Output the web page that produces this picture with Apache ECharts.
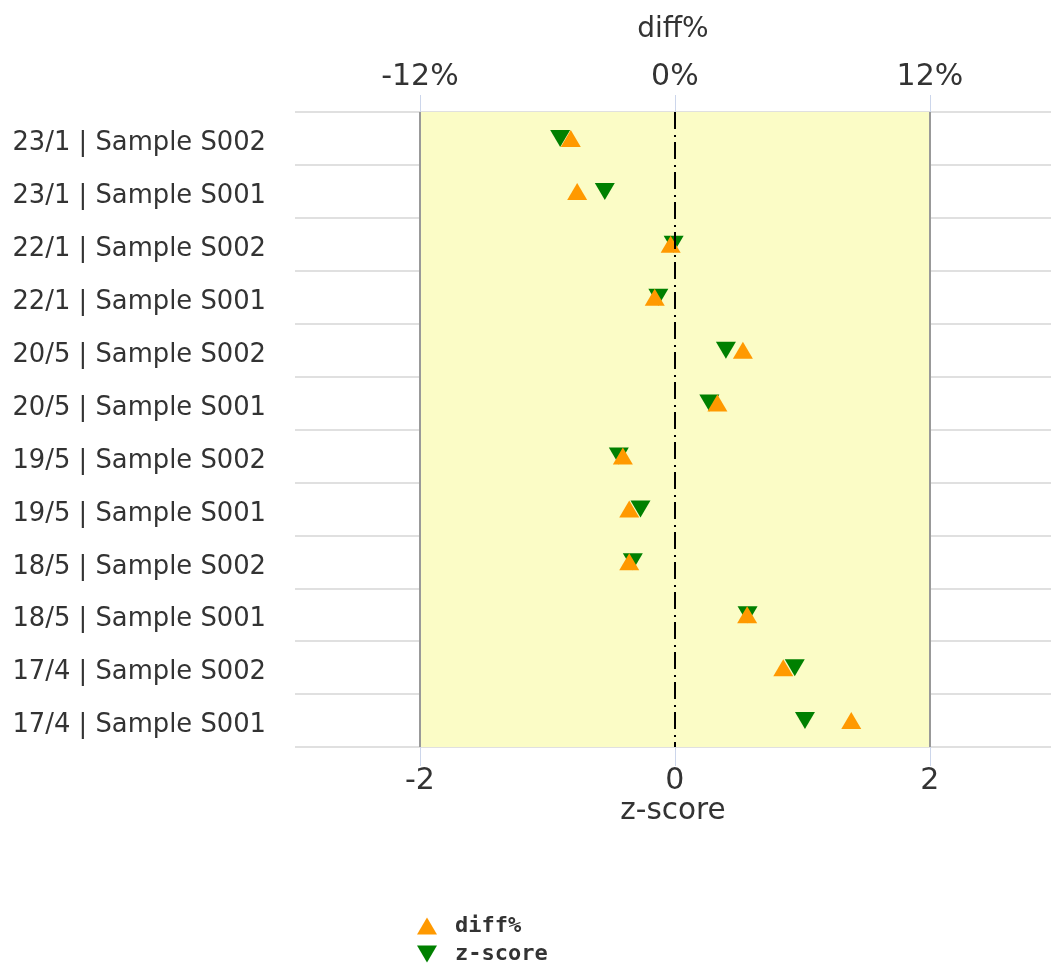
<!DOCTYPE html>
<html>
<head>
<meta charset="utf-8">
<script src="https://cdn.jsdelivr.net/npm/echarts@6/dist/echarts.min.js"></script>
<style>html,body{margin:0;padding:0;background:#fff;}#c{width:1051px;height:972px;}</style>
</head>
<body>
<div id="c"></div>
<script>
// categories listed top to bottom
const categories = [
  '23/1 | Sample S002', '23/1 | Sample S001',
  '22/1 | Sample S002', '22/1 | Sample S001',
  '20/5 | Sample S002', '20/5 | Sample S001',
  '19/5 | Sample S002', '19/5 | Sample S001',
  '18/5 | Sample S002', '18/5 | Sample S001',
  '17/4 | Sample S002', '17/4 | Sample S001'
];
const diffPct = [-4.9, -4.6, -0.2, -0.95, 3.2, 2.0, -2.45, -2.15, -2.15, 3.4, 5.1, 8.3];
const zScore = [-0.9, -0.55, -0.01, -0.13, 0.4, 0.27, -0.44, -0.27, -0.33, 0.57, 0.94, 1.02];
const zTicks = [-2, 0, 2];
const pctTicks = [-12, 0, 12];
const zRange = [-2.98, 2.95];
const pctRange = [-17.88, 17.7];

const UP = 'path://M10,0L20,17L0,17Z';
const DOWN = 'path://M0,0L20,0L10,17Z';
const FONT = 'DejaVu Sans';

const chart = echarts.init(document.getElementById('c'), null, {renderer: 'canvas'});
chart.setOption({
  animation: false,
  backgroundColor: '#ffffff',
  grid: {left: 295, right: 0, top: 112, bottom: 225, containLabel: false},
  legend: {
    orient: 'vertical', left: 417, top: 915, padding: 0,
    itemWidth: 20, itemHeight: 17, itemGap: 6,
    textStyle: {fontFamily: 'DejaVu Sans Mono', fontWeight: 'bold', fontSize: 22, lineHeight: 22, color: '#333', padding: [0, 0, 0, 13]},
    data: [{name: 'diff%', icon: UP}, {name: 'z-score', icon: DOWN}]
  },
  xAxis: [
    {
      type: 'value', position: 'bottom', min: zRange[0], max: zRange[1],
      name: 'z-score', nameLocation: 'middle', nameGap: 49, nameMoveOverlap: false,
      nameTextStyle: {fontFamily: FONT, fontSize: 29.5, color: '#333'},
      axisLine: {show: false},
      axisTick: {show: true, length: 19, customValues: zTicks, lineStyle: {color: '#ccd6eb', width: 1}},
      axisLabel: {customValues: zTicks, fontFamily: FONT, fontSize: 30, color: '#333', margin: 19},
      splitLine: {show: false}
    },
    {
      type: 'value', position: 'top', min: pctRange[0], max: pctRange[1],
      name: 'diff%', nameLocation: 'middle', nameGap: 68,
      nameTextStyle: {fontFamily: FONT, fontSize: 28, color: '#333'},
      axisLine: {show: false},
      axisTick: {show: true, length: 17, customValues: pctTicks, lineStyle: {color: '#ccd6eb', width: 1}},
      axisLabel: {customValues: pctTicks, formatter: '{value}%', fontFamily: FONT, fontSize: 30, color: '#333', margin: 20},
      splitLine: {show: false}
    }
  ],
  yAxis: {
    type: 'category', data: categories, inverse: true,
    axisLine: {show: false}, axisTick: {show: false},
    axisLabel: {
      margin: 29,
      formatter: v => '{a|' + v + '}',
      rich: {a: {fontFamily: FONT, fontSize: 25.8, color: '#333', padding: [10, 0, 0, 0]}}
    },
    splitLine: {show: true, lineStyle: {color: '#e0e0e0', width: 2}}
  },
  series: [
    {
      name: 'z-score', type: 'scatter', xAxisIndex: 0, z: 2,
      symbol: DOWN, symbolSize: [20, 17],
      itemStyle: {color: '#008000', opacity: 1},
      data: zScore.map((v, i) => [v, categories[i]]),
      markArea: {
        silent: true,
        itemStyle: {color: '#fbfcc6', borderWidth: 0},
        data: [[{xAxis: -2}, {xAxis: 2}]]
      },
      markLine: {
        silent: true, symbol: 'none', label: {show: false},
        data: [
          {xAxis: 0, lineStyle: {color: '#000', width: 2, type: [17, 6, 2, 5]}},
          {xAxis: -2, lineStyle: {color: '#999', width: 2, type: 'solid'}},
          {xAxis: 2, lineStyle: {color: '#999', width: 2, type: 'solid'}}
        ]
      }
    },
    {
      name: 'diff%', type: 'scatter', xAxisIndex: 1, z: 3,
      symbol: UP, symbolSize: [20, 17],
      itemStyle: {color: '#ff9900', opacity: 1},
      data: diffPct.map((v, i) => [v, categories[i]])
    }
  ]
});
</script>
</body>
</html>
